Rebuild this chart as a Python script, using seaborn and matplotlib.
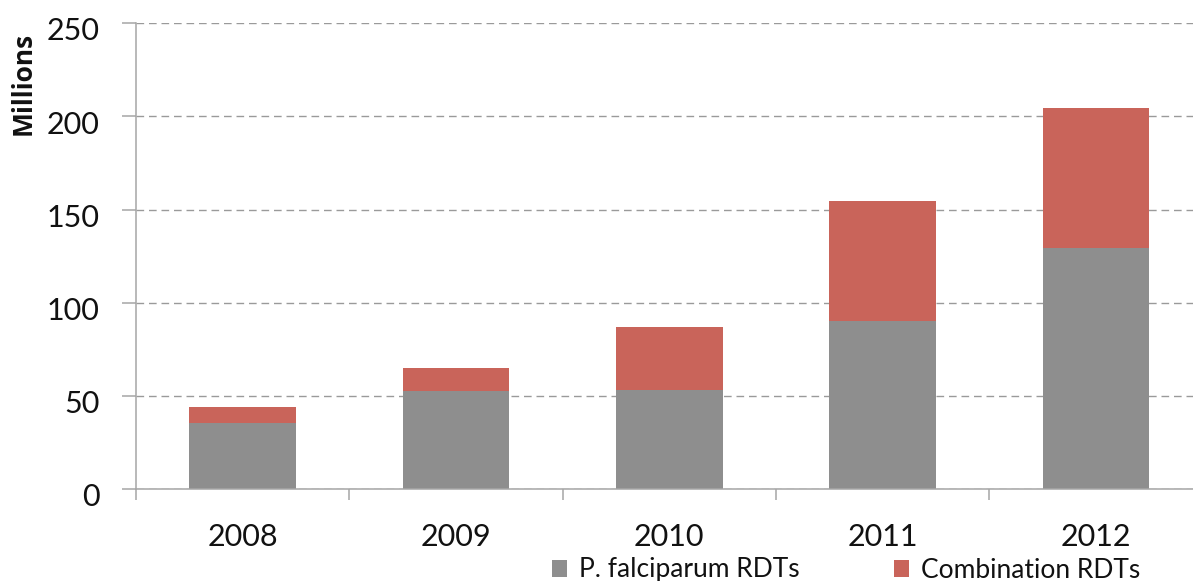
import numpy as np
import matplotlib
matplotlib.use("Agg")
import matplotlib.pyplot as plt
import matplotlib.transforms as mtrans
import seaborn as sns
import pandas as pd
from matplotlib.patches import Patch

years = ["2008", "2009", "2010", "2011", "2012"]
pf_rdts = [35.5, 52.5, 53.5, 90.5, 129.5]
combo_rdts = [8.5, 12.5, 33.5, 64.0, 75.0]
series_labels = ["P. falciparum RDTs", "Combination RDTs"]
y_ticks = [0, 50, 100, 150, 200, 250]

GREY = "#8e8e8e"
RED = "#c9645a"
AXC = "#a6a6a6"

sns.set_theme(style="white")
plt.rcParams["font.family"] = ["Lato", "DejaVu Sans"]

df = pd.DataFrame({"year": years, "pf": pf_rdts, "combo": combo_rdts})
df["total"] = df["pf"] + df["combo"]

W, H = 1193, 581
fig = plt.figure(figsize=(W / 100, H / 100), dpi=100)
x0, y0, ytop = 136, 489.3, 23.3
ax = fig.add_axes([x0 / W, 1 - y0 / H, 1 - x0 / W, (y0 - ytop) / H])

sns.barplot(data=df, x="year", y="total", color=RED, width=0.5, saturation=1,
            ax=ax, edgecolor="none")
sns.barplot(data=df, x="year", y="pf", color=GREY, width=0.5, saturation=1,
            ax=ax, edgecolor="none")

ax.set_ylim(0, 250)
ax.set_xlim(-0.5, (W - 243) / 213.25)
ax.set_yticks(y_ticks)
ax.set_xlabel("")
ax.set_ylabel("")

ax.set_axisbelow(True)
ax.yaxis.grid(True, linestyle=(0, (5.5, 3.5)), color="#9a9a9a", linewidth=1)
ax.xaxis.grid(False)

for s in ["top", "right"]:
    ax.spines[s].set_visible(False)
for s in ["left", "bottom"]:
    ax.spines[s].set_visible(True)
    ax.spines[s].set_color(AXC)
    ax.spines[s].set_linewidth(1.1)

ax.set_xticks(np.arange(-0.5, 4.0, 1.0), minor=True)
ax.tick_params(axis="x", which="minor", length=8, width=1.1, color=AXC, direction="out", bottom=True)
ax.tick_params(axis="x", which="major", length=0, pad=24, labelsize=22, labelcolor="#111111")
ax.tick_params(axis="y", which="major", length=10, width=1.1, color=AXC, direction="out",
               left=True, pad=16, labelsize=22, labelcolor="#111111")

shift = mtrans.ScaledTranslation(0, -4 / 72, fig.dpi_scale_trans)
for lab in ax.get_yticklabels():
    lab.set_transform(lab.get_transform() + shift)

fig.text(23 / W, 1 - 83 / H, "Millions", rotation=90, ha="center", va="center",
         fontweight="bold", fontsize=19, color="#111111", family=["Open Sans", "DejaVu Sans"])

handles = [Patch(facecolor=GREY, edgecolor="none"), Patch(facecolor=RED, edgecolor="none")]
fig.legend(handles, series_labels, loc="center", bbox_to_anchor=(846 / W, 1 - 570 / H),
           ncol=2, frameon=False, fontsize=19, handlelength=0.6, handleheight=0.6,
           handletextpad=0.45, columnspacing=3.55, borderpad=0, labelcolor="#111111")

fig.savefig("out.png", dpi=100)
